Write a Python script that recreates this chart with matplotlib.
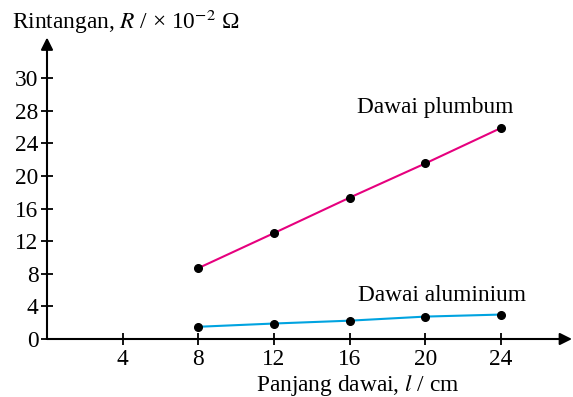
import matplotlib
matplotlib.use("Agg")
import matplotlib.pyplot as plt

# -----------------------------
# Data
# -----------------------------
length_cm = [8, 12, 16, 20, 24]
r_plumbum = [8.7, 13.0, 17.35, 21.55, 25.9]
r_aluminium = [1.5, 1.9, 2.25, 2.75, 3.0]

x_ticks = [4, 8, 12, 16, 20, 24]
y_ticks = [0, 4, 8, 12, 16, 20, 24, 28, 32]
y_tick_labels = ["0", "4", "8", "12", "16", "20", "24", "28", "30"]

PINK = "#E6007E"
CYAN = "#00A3E0"
FS = 16.8

plt.rcParams["font.family"] = ["Liberation Serif", "DejaVu Serif"]
plt.rcParams["mathtext.fontset"] = "stix"

fig = plt.figure(figsize=(5.73, 3.97), dpi=100)
ax = fig.add_axes([47 / 573, 58 / 397, 525 / 573, 301.5 / 397])
ax.set_xlim(0, 27.75)
ax.set_ylim(0, 37)

for side in ["top", "right", "left", "bottom"]:
    ax.spines[side].set_visible(False)

# axis lines with arrow heads
arrow = dict(arrowstyle="-|>", color="black", lw=1.5, mutation_scale=18,
             shrinkA=0, shrinkB=0)
ax.annotate("", xy=(1, 0), xytext=(0, 0), xycoords="axes fraction",
            arrowprops=arrow, annotation_clip=False)
ax.annotate("", xy=(0, 1), xytext=(0, 0), xycoords="axes fraction",
            arrowprops=arrow, annotation_clip=False)

ax.plot(length_cm, r_plumbum, color=PINK, lw=1.5, marker="o",
        markersize=5.5, markerfacecolor="black", markeredgecolor="black",
        clip_on=False, zorder=3)
ax.plot(length_cm, r_aluminium, color=CYAN, lw=1.5, marker="o",
        markersize=5.5, markerfacecolor="black", markeredgecolor="black",
        clip_on=False, zorder=3)

ax.text(16.4, 27.7, "Dawai plumbum", fontsize=FS, va="baseline", ha="left")
ax.text(16.45, 4.65, "Dawai aluminium", fontsize=FS, va="baseline", ha="left")

ax.set_xticks(x_ticks)
ax.set_xticklabels([str(t) for t in x_ticks])
ax.set_yticks(y_ticks)
ax.set_yticklabels(y_tick_labels)
ax.tick_params(direction="inout", length=9, width=1.3, color="black",
               labelsize=FS, pad=3)
ax.tick_params(axis="y", pad=1.5)

fig.text(12 / 573, 1 - 29 / 397, r"Rintangan, $R$ / × 10$^{-2}$ Ω",
         fontsize=FS, ha="left", va="baseline")
fig.text(358 / 573, 1 - 391 / 397, r"Panjang dawai, $l$ / cm",
         fontsize=FS, ha="center", va="baseline")

fig.savefig("out.png", dpi=100)
